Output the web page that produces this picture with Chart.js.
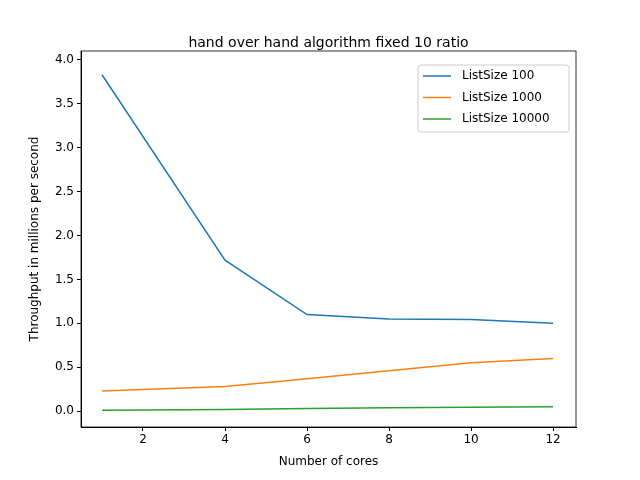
<!DOCTYPE html>
<html><head><meta charset="utf-8">
<script src="https://cdn.jsdelivr.net/npm/chart.js@4"></script>
<style>html,body{margin:0;background:#fff}#c{width:640px;height:480px}</style>
</head><body><div id="c"><canvas id="chart" width="640" height="480"></canvas></div>
<script>
const cores = [1, 4, 6, 8, 10, 12];
const size100 = [3.83, 1.72, 1.10, 1.05, 1.045, 1.0];
const size1000 = [0.23, 0.28, 0.37, 0.46, 0.55, 0.60];
const size10000 = [0.01, 0.02, 0.03, 0.04, 0.045, 0.05];
const xTicks = [2, 4, 6, 8, 10, 12];
const yTicks = [0, 0.5, 1, 1.5, 2, 2.5, 3, 3.5, 4];
const names = ["ListSize 100", "ListSize 1000", "ListSize 10000"];
const colors = ["#1f77b4", "#ff7f0e", "#2ca02c"];
const titleText = "hand over hand algorithm fixed 10 ratio";
const xTitle = "Number of cores";
const yTitle = "Throughput in millions per second";
const font = { family: "DejaVu Sans", size: 12 };

const series = [size100, size1000, size10000];
const datasets = series.map((s, i) => ({
  label: names[i],
  data: s.map((v, j) => ({ x: cores[j], y: v })),
  borderColor: colors[i], borderWidth: 1.5, pointRadius: 0, fill: false, tension: 0
}));

const frame = {
  id: "frame",
  afterDraw(chart) {
    const { ctx, chartArea: a } = chart;
    ctx.save();
    ctx.strokeStyle = "#000"; ctx.lineWidth = 0.8;
    ctx.strokeRect(a.left, a.top, a.right - a.left, a.bottom - a.top);
    const cx = (a.left + a.right) / 2;
    ctx.fillStyle = "#000"; ctx.textAlign = "center"; ctx.textBaseline = "middle";
    ctx.font = "14px 'DejaVu Sans'";
    ctx.fillText(titleText, cx, 43);
    ctx.font = "12px 'DejaVu Sans'";
    ctx.fillText(xTitle, cx, 462);
    ctx.save();
    ctx.translate(35, (a.top + a.bottom) / 2); ctx.rotate(-Math.PI / 2);
    ctx.fillText(yTitle, 0, 0);
    ctx.restore();
    // legend
    const x0 = 418, y0 = 65, w = 151, h = 67;
    ctx.fillStyle = "rgba(255,255,255,0.8)";
    ctx.strokeStyle = "#ccc"; ctx.lineWidth = 1;
    ctx.beginPath(); ctx.roundRect(x0, y0, w, h, 3); ctx.fill(); ctx.stroke();
    ctx.textAlign = "left";
    names.forEach((n, i) => {
      const y = y0 + 11 + i * 21.5;
      ctx.strokeStyle = colors[i]; ctx.lineWidth = 1.5;
      ctx.beginPath(); ctx.moveTo(x0 + 5, y); ctx.lineTo(x0 + 33, y); ctx.stroke();
      ctx.fillStyle = "#000"; ctx.fillText(n, x0 + 44, y);
    });
    ctx.restore();
  }
};

new Chart(document.getElementById("chart"), {
  type: "line",
  data: { datasets },
  plugins: [frame],
  options: {
    responsive: false, animation: false,
    layout: { padding: { left: 0, right: 64, top: 51, bottom: 0 } },
    plugins: { legend: { display: false }, tooltip: { enabled: false }, title: { display: false } },
    scales: {
      x: {
        type: "linear", min: 0.488, max: 12.56,
        afterBuildTicks: s => { s.ticks = xTicks.map(v => ({ value: v })); },
        afterFit: s => { s.height = 53; },
        grid: { drawOnChartArea: false, tickLength: 4, color: "#000" },
        border: { color: "#000" },
        ticks: { color: "#000", font, padding: 2, maxRotation: 0 }
      },
      y: {
        min: -0.18, max: 4.1,
        afterBuildTicks: s => { s.ticks = yTicks.map(v => ({ value: v })); },
        afterFit: s => { s.width = 81; },
        grid: { drawOnChartArea: false, tickLength: 4, color: "#000" },
        border: { color: "#000" },
        ticks: { color: "#000", font, padding: 3, callback: v => v.toFixed(1) }
      }
    }
  }
});
</script></body></html>
